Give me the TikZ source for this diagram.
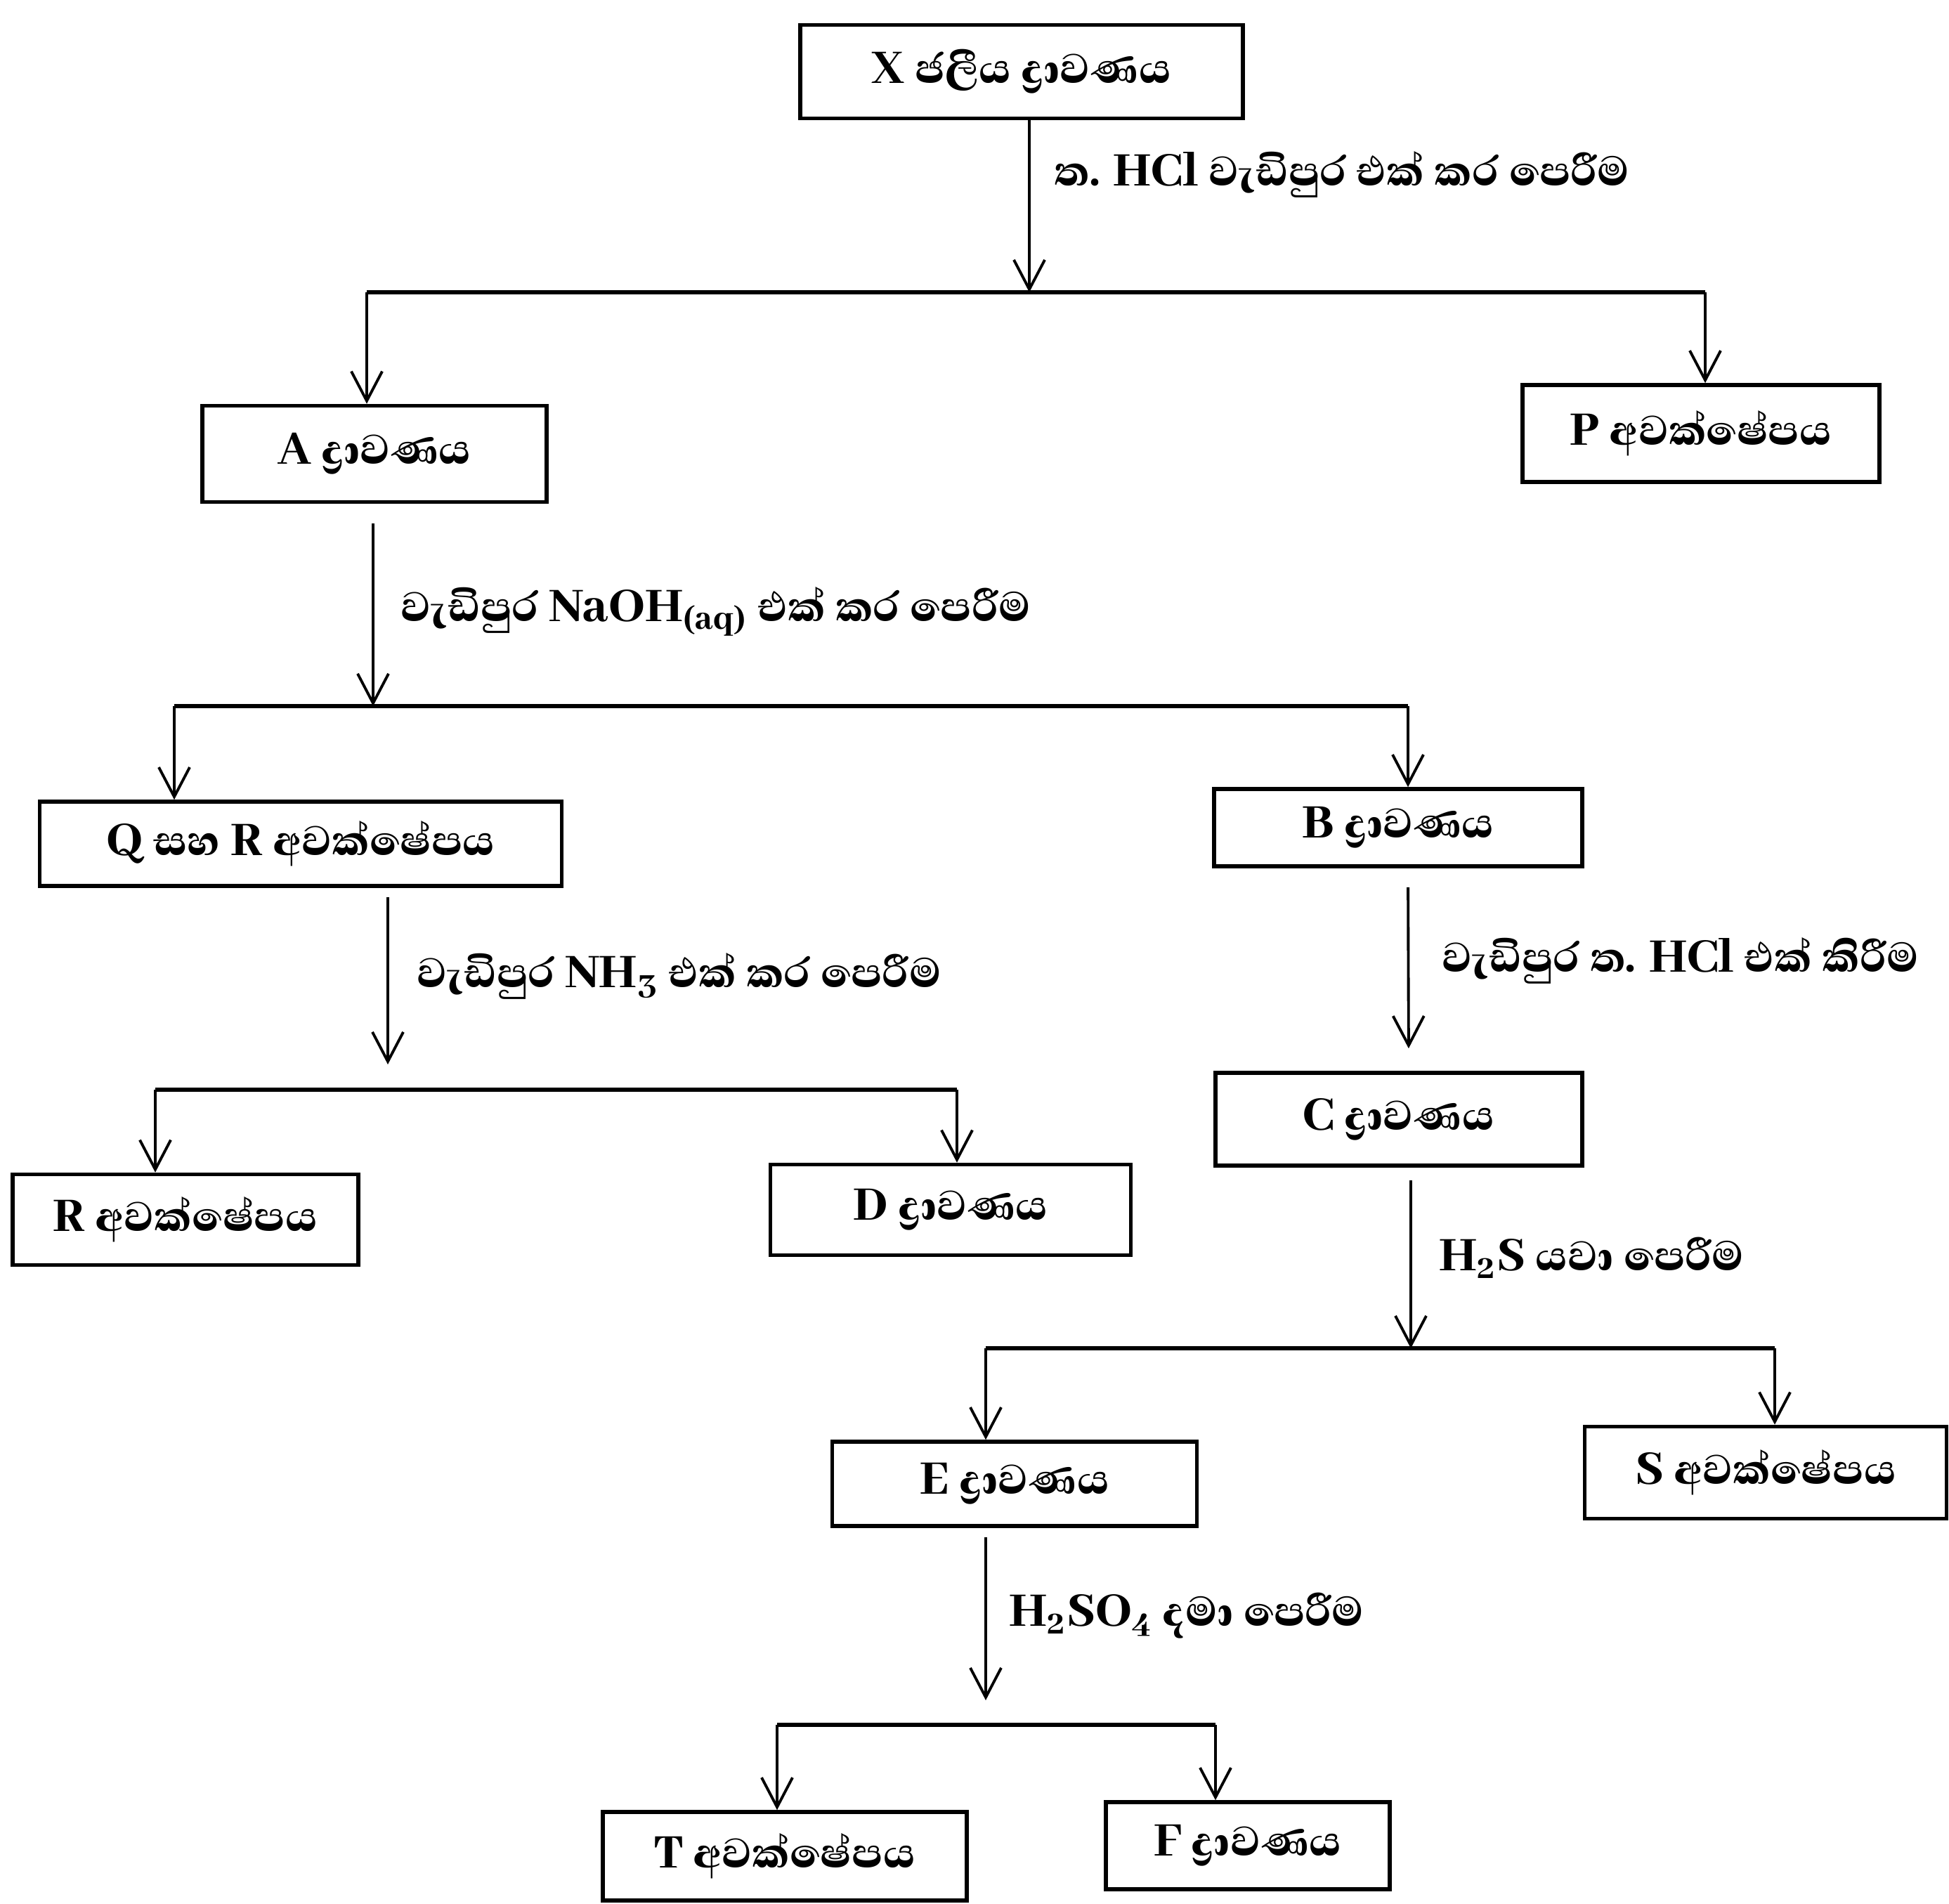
\documentclass[tikz,border=0pt]{standalone}
\usepackage{fontspec}
\setmainfont[Script=Sinhala,BoldFont={Abhaya Libre ExtraBold}]{Abhaya Libre}
\usetikzlibrary{arrows.meta,positioning}
\tikzset{
  stage/.style={draw,line width=1.6pt,minimum width=#1,inner sep=2pt,
                font=\fontsize{21.5}{25}\selectfont\bfseries},
  stage/.default=5.2cm,
  flow/.style={-{Straight Barb[length=4.2mm,width=4.4mm]},line width=1.1pt},
  branch/.style={line width=1.6pt},
  lbl/.style={anchor=west,inner sep=0pt,font=\fontsize{21.5}{25}\selectfont\bfseries},
}

\begin{document}
\begin{tikzpicture}
  \useasboundingbox (0,0) rectangle (27.74,-27.09);
  % boxes
  \node[stage=6.3cm,minimum height=1.33cm]  (X)  at (14.54,-1.02)  {X ජලීය ද්^^^^200dරාවණය};
  \node[stage=4.9cm,minimum height=1.37cm]  (A)  at (5.33,-6.46)   {A ද්^^^^200dරාවණය};
  \node[stage=5.08cm,minimum height=1.38cm] (P)  at (24.21,-6.17)  {P අවක්ෂේපය};
  \node[stage=7.43cm,minimum height=1.2cm]  (QR) at (4.28,-12.01)  {Q සහ R අවක්ෂේපය};
  \node[stage=5.24cm,minimum height=1.1cm]  (B)  at (19.90,-11.78) {B ද්^^^^200dරාවණය};
  \node[stage=4.92cm,minimum height=1.29cm] (R)  at (2.64,-17.36)  {R අවක්ෂේපය};
  \node[stage=5.13cm,minimum height=1.29cm] (D)  at (13.53,-17.22) {D ද්^^^^200dරාවණය};
  \node[stage=5.22cm,minimum height=1.32cm] (C)  at (19.91,-15.93) {C ද්^^^^200dරාවණය};
  \node[stage=5.19cm,minimum height=1.2cm]  (E)  at (14.44,-21.12) {E ද්^^^^200dරාවණය};
  \node[stage=5.15cm,minimum height=1.31cm] (S)  at (25.13,-20.96) {S අවක්ෂේපය};
  \node[stage=5.18cm,minimum height=1.26cm] (T)  at (11.17,-26.42) {T අවක්ෂේපය};
  \node[stage=4.04cm,minimum height=1.24cm] (F)  at (17.76,-26.27) {F ද්^^^^200dරාවණය};
  % split points
  \coordinate (s1) at (14.65,-4.16); \coordinate (s1l) at (5.22,-4.16);  \coordinate (s1r) at (24.27,-4.16);
  \coordinate (s2) at (5.31,-10.05); \coordinate (s2l) at (2.48,-10.05); \coordinate (s2r) at (20.04,-10.05);
  \coordinate (s3) at (5.52,-15.51); \coordinate (s3l) at (2.21,-15.51); \coordinate (s3r) at (13.62,-15.51);
  \coordinate (s4) at (20.08,-19.19); \coordinate (s4l) at (14.03,-19.19); \coordinate (s4r) at (25.26,-19.19);
  \coordinate (s5) at (14.03,-24.55); \coordinate (s5l) at (11.06,-24.55); \coordinate (s5r) at (17.30,-24.55);
  % reagent steps
  \draw[flow] (X.south -| s1) -- (s1);
  \draw[flow,shorten <=2.8mm] (A.south -| s2) -- (s2);
  \draw[flow,shorten <=1.3mm,shorten >=3.6mm] (QR.south -| s3) -- (s3);
  \draw[flow,shorten <=2.7mm,shorten >=3.2mm] ([xshift=1.4mm]B.south) -- ([xshift=1.4mm]C.north);
  \draw[flow,shorten <=1.8mm] (C.south -| s4) -- (s4);
  \draw[flow,shorten <=1.3mm,shorten >=3.5mm] (E.south -| s5) -- (s5);
  \foreach \a/\b in {s1l/s1r,s2l/s2r,s3l/s3r,s4l/s4r,s5l/s5r}{ \draw[branch] (\a) -- (\b); }
  \foreach \s/\n in {s1l/A,s1r/P,s2l/QR,s2r/B,s3l/R,s3r/D,s4l/E,s4r/S,s5l/T,s5r/F}{
    \draw[flow] (\s) -- (\s |- \n.north);
  }
  % labels
  \node[lbl] (l1) at (15.00,-2.48) {ත. HCl වැඩිපුර එක් කර පෙරීම};
  \node[lbl] (l2) at (5.70,-8.70)  {වැඩිපුර NaOH\textsubscript{(aq)} එක් කර පෙරීම};
  \node[lbl] (l3) at (5.93,-13.89) {වැඩිපුර NH\textsubscript{3} එක් කර පෙරීම};
  \node[lbl] (l4) at (20.52,-13.67) {වැඩිපුර ත. HCl එක් කිරීම};
  \node[lbl] (l5) at (20.48,-17.90) {H\textsubscript{2}S යවා පෙරීම};
  \node[lbl] (l6) at (14.36,-23.00) {H\textsubscript{2}SO\textsubscript{4} දමා පෙරීම};
\end{tikzpicture}
\end{document}
